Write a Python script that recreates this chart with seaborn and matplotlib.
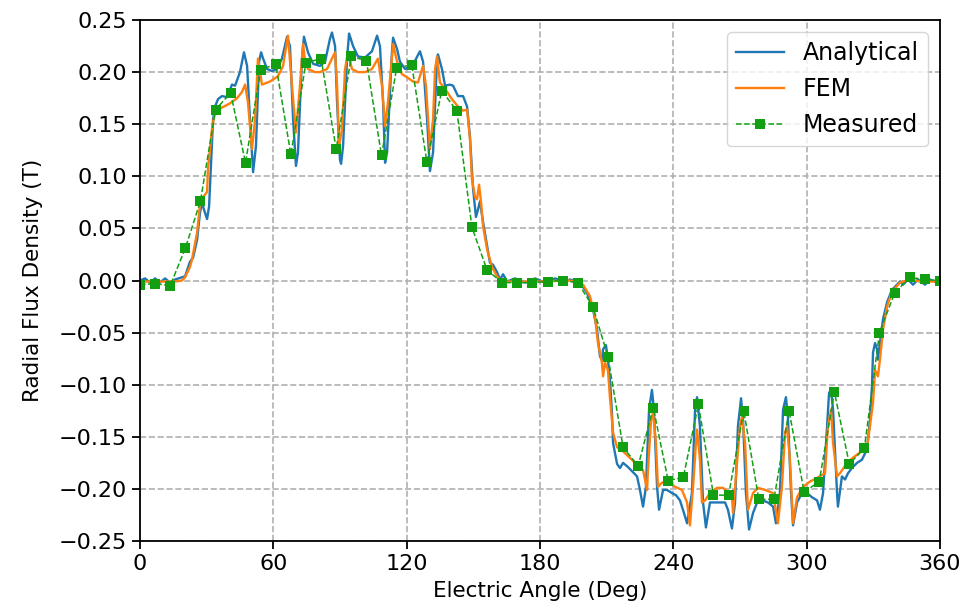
import numpy as np
import pandas as pd
import matplotlib
matplotlib.use("Agg")
import matplotlib.pyplot as plt
import seaborn as sns

# ---------------- data ----------------
angle_analytical = [
    0, 2.3, 4.5, 6.8, 9, 11.3, 13.5, 15.8, 18.9, 20.3,
    22.5, 23.9, 25.7, 27, 27.9, 28.8, 30.2, 31.1, 32, 32.9,
    33.8, 35.1, 36.9, 39.2, 41.4, 42.8, 45, 46.8, 48.2, 49.5,
    50.9, 52.2, 53.6, 54.5, 55.4, 57.2, 59.4, 61.7, 63.9, 66.2,
    67.5, 68.9, 70.2, 71.1, 72.9, 73.8, 75.6, 77.9, 81, 83.3,
    85.5, 86.4, 87.8, 88.7, 90, 90.5, 91.4, 93.2, 94.1, 95.9,
    98.1, 101.3, 104.4, 106.7, 108, 109.4, 110.3, 111.2, 113.4, 113.9,
    115.7, 117, 119.3, 121.5, 123.8, 126, 127.4, 129.2, 130.5, 131.9,
    133.7, 134.1, 135.9, 137.3, 139.5, 140.9, 143.1, 145.4, 147.2, 148.5,
    149.9, 151.2, 152.1, 153, 154.4, 156.2, 157.5, 158.9, 160.7, 162,
    163.4, 165.2, 168.8, 173.3, 177.8, 182.3, 186.8, 191.3, 193.5, 198,
    201.2, 203.9, 205.7, 207, 207.9, 208.4, 209.7, 210.6, 211.5, 212.4,
    212.9, 214.7, 216, 217.4, 219.6, 221.9, 223.7, 225, 226.4, 227.7,
    229.1, 230.4, 231.3, 232.7, 233.6, 235.4, 237.2, 239.4, 241.2, 243,
    244.8, 246.2, 248.4, 249.8, 250.7, 252, 253.4, 254.7, 256.5, 258.8,
    261, 263.3, 264.6, 266.4, 267.8, 269.1, 270.5, 271.4, 272.7, 274.1,
    275.9, 278.1, 279.9, 282.6, 284.9, 286.2, 288, 289.4, 290.7, 291.6,
    293, 293.9, 295.7, 297.9, 300.2, 302.4, 304.7, 306, 307.4, 309.2,
    310.1, 311, 311.9, 313.7, 314.1, 315.9, 317.3, 318.6, 320.4, 322.7,
    324.9, 327.2, 328.5, 329.4, 329.9, 330.8, 331.7, 332.1, 333, 334.4,
    336.2, 338.4, 340.7, 342, 343.4, 345.6, 347.9, 350.1, 353.3, 355.5,
    358.7, 360,
]
flux_analytical = [
    0, .002, -.002, .002, -.002, .002, -.002, .001, .003, .004,
    .018, .022, .039, .065, .075, .068, .059, .071, .113, .155,
    .167, .174, .177, .176, .188, .187, .200, .219, .206, .155,
    .104, .129, .210, .219, .213, .203, .201, .203, .213, .234,
    .225, .155, .110, .123, .213, .234, .219, .208, .206, .210,
    .232, .238, .225, .171, .116, .112, .129, .213, .237, .225,
    .215, .214, .220, .235, .225, .171, .113, .123, .219, .233,
    .222, .210, .203, .205, .211, .220, .210, .155, .105, .123,
    .213, .217, .203, .187, .188, .187, .177, .177, .167, .138,
    .088, .061, .068, .076, .056, .033, .017, .015, .008, .001,
    .006, -.001, .002, -.002, .002, -.002, .002, -.001, .001, -.002,
    -.012, -.028, -.047, -.073, -.076, -.066, -.062, -.076, -.095, -.127,
    -.156, -.176, -.180, -.175, -.179, -.184, -.188, -.201, -.217, -.198,
    -.124, -.105, -.124, -.198, -.220, -.201, -.201, -.204, -.206, -.211,
    -.223, -.233, -.204, -.124, -.112, -.140, -.213, -.237, -.213, -.213,
    -.213, -.213, -.220, -.238, -.213, -.140, -.113, -.134, -.204, -.239,
    -.223, -.211, -.211, -.213, -.217, -.233, -.204, -.124, -.112, -.131,
    -.204, -.235, -.213, -.204, -.204, -.208, -.211, -.220, -.204, -.140,
    -.108, -.105, -.124, -.204, -.217, -.188, -.191, -.185, -.180, -.175,
    -.172, -.162, -.134, -.102, -.069, -.060, -.066, -.076, -.060, -.037,
    -.021, -.009, -.004, -.001, -.004, .001, -.004, .001, -.004, .001,
    -.002, -.001,
]

angle_fem = [
    0, 9, 15.8, 18.9, 20.3, 22.5, 23.4, 25.7, 27, 28.4,
    30.2, 30.6, 32.4, 33.8, 36.9, 40.5, 43.7, 45.9, 47.3, 48.6,
    50.4, 51.8, 53.1, 54.9, 58.5, 62.1, 64.4, 66.6, 68.4, 70.2,
    72, 73.4, 74.3, 75.6, 78.8, 81, 84.2, 86.4, 87.8, 88.7,
    89.6, 90.9, 92.3, 93.6, 95.4, 98.1, 101.3, 104.4, 107.1, 108.9,
    110.3, 111.6, 113.9, 115.7, 117.9, 120.2, 122.9, 125.1, 127.4, 128.7,
    130.5, 131.9, 132.8, 133.7, 135, 137.3, 140.4, 143.1, 145.4, 147.2,
    148.5, 149.4, 150.8, 151.7, 152.6, 153.5, 154.4, 156.2, 158.4, 160.7,
    162.9, 180, 193.5, 199.4, 202.5, 204.8, 206.1, 207.9, 208.4, 209.3,
    210.6, 211.5, 212.9, 214.7, 217.4, 221.4, 224.1, 226.4, 228.2, 228.6,
    230, 230.9, 232.2, 233.1, 234.9, 237.6, 240.8, 243.9, 246.2, 247.5,
    248.9, 250.2, 250.7, 252, 252.9, 254.3, 256.5, 259.7, 262.4, 264.6,
    266.4, 266.9, 268.2, 270, 270.9, 272.3, 273.6, 275.9, 278.1, 281.3,
    284.9, 287.1, 288.9, 290.3, 291.2, 292.5, 293.9, 295.7, 298.4, 301.5,
    305.1, 308.3, 309.6, 311, 311.9, 313.7, 315, 318.2, 320.9, 324,
    327.2, 328.5, 329.9, 330.8, 332.1, 333, 334.4, 336.2, 338.4, 342,
    346.5, 351, 355.5, 360,
]
flux_fem = [
    -.001, -.001, -.001, 0, .003, .013, .020, .046, .073, .080,
    .085, .107, .145, .162, .166, .170, .175, .181, .188, .171,
    .126, .155, .213, .188, .191, .196, .206, .235, .187, .142,
    .187, .227, .210, .203, .200, .200, .203, .213, .219, .187,
    .129, .145, .203, .219, .203, .200, .200, .203, .213, .187,
    .148, .171, .227, .210, .198, .195, .191, .190, .206, .187,
    .126, .155, .203, .215, .190, .184, .174, .167, .163, .164,
    .136, .097, .080, .078, .092, .075, .052, .030, .013, .004,
    -.001, -.001, 0, -.004, -.015, -.035, -.060, -.079, -.092, -.079,
    -.086, -.112, -.146, -.160, -.164, -.172, -.178, -.182, -.201, -.182,
    -.134, -.127, -.156, -.198, -.194, -.193, -.198, -.201, -.213, -.235,
    -.198, -.156, -.143, -.172, -.213, -.211, -.204, -.199, -.199, -.203,
    -.208, -.223, -.188, -.140, -.131, -.156, -.220, -.204, -.199, -.201,
    -.204, -.233, -.198, -.146, -.140, -.172, -.233, -.208, -.198, -.193,
    -.189, -.185, -.140, -.124, -.156, -.188, -.185, -.175, -.170, -.165,
    -.160, -.140, -.117, -.086, -.092, -.076, -.047, -.025, -.011, -.002,
    .001, -.001, -.001, -.001,
]

angle_measured = [
    0, 6.8, 13.6, 20.4, 27.2, 34, 40.8, 47.5, 54.3, 61.1,
    67.9, 74.7, 81.5, 88.3, 95.1, 101.9, 108.7, 115.5, 122.3, 129.1,
    135.8, 142.6, 149.4, 156.2, 163, 169.8, 176.6, 183.4, 190.2, 197,
    203.8, 210.6, 217.4, 224.2, 231, 237.7, 244.5, 251.3, 258.1, 264.9,
    271.7, 278.5, 285.3, 292.1, 298.9, 305.7, 312.5, 319.2, 326, 332.8,
    339.6, 346.4, 353.2, 360,
]
flux_measured = [
    -0.004, -0.003, -0.005, 0.031, 0.076, 0.164, 0.180, 0.113, 0.202, 0.208,
    0.121, 0.209, 0.213, 0.126, 0.215, 0.211, 0.120, 0.204, 0.207, 0.114,
    0.182, 0.163, 0.051, 0.010, -0.002, -0.002, -0.002, -0.001, 0.000, -0.002,
    -0.025, -0.073, -0.160, -0.178, -0.122, -0.192, -0.189, -0.119, -0.206, -0.206,
    -0.125, -0.210, -0.210, -0.125, -0.203, -0.193, -0.107, -0.176, -0.161, -0.050,
    -0.012, 0.003, 0.001, 0.000,
]

x_ticks = [0, 60, 120, 180, 240, 300, 360]
y_ticks = [-0.25, -0.20, -0.15, -0.10, -0.05, 0.00, 0.05, 0.10, 0.15, 0.20, 0.25]

# ---------------- plot ----------------
plt.rcParams['font.family'] = ['DejaVu Sans']
fig = plt.figure(figsize=(9.7, 6.14), dpi=100)
ax = fig.add_axes([0.1443, 0.1189, 0.8247, 0.8485])

df_a = pd.DataFrame({"angle": angle_analytical, "flux": flux_analytical})
df_f = pd.DataFrame({"angle": angle_fem, "flux": flux_fem})
df_m = pd.DataFrame({"angle": angle_measured, "flux": flux_measured})

sns.lineplot(data=df_a, x="angle", y="flux", ax=ax, sort=False, estimator=None,
             color="#1f77b4", linewidth=1.7, label="Analytical")
sns.lineplot(data=df_f, x="angle", y="flux", ax=ax, sort=False, estimator=None,
             color="#ff7f0e", linewidth=1.7, label="FEM")
sns.lineplot(data=df_m, x="angle", y="flux", ax=ax, sort=False, estimator=None,
             color="#12a012", linewidth=1.1, linestyle="--", marker="s",
             markersize=7, markeredgewidth=0, label="Measured")

ax.set_xlim(0, 360)
ax.set_ylim(-0.25, 0.25)
ax.set_xticks(x_ticks)
ax.set_yticks(y_ticks)
ax.set_yticklabels([f"{v:.2f}".replace("-", "\u2212") for v in y_ticks])
ax.tick_params(labelsize=16, length=6, width=1.3)
ax.set_xlabel("Electric Angle (Deg)", fontsize=15.5, labelpad=5)
ax.set_ylabel("Radial Flux Density (T)", fontsize=15.5, labelpad=11)
ax.grid(True, linestyle="--", color="#b0b0b0", linewidth=1.2)
for s in ax.spines.values():
    s.set_linewidth(1.3)
    s.set_color("black")

leg = ax.legend(loc="upper right", fontsize=17, frameon=True, fancybox=True,
                handlelength=2.0, borderaxespad=0.5)
leg.get_frame().set_edgecolor("#cccccc")

fig.savefig("out.png", dpi=100)
